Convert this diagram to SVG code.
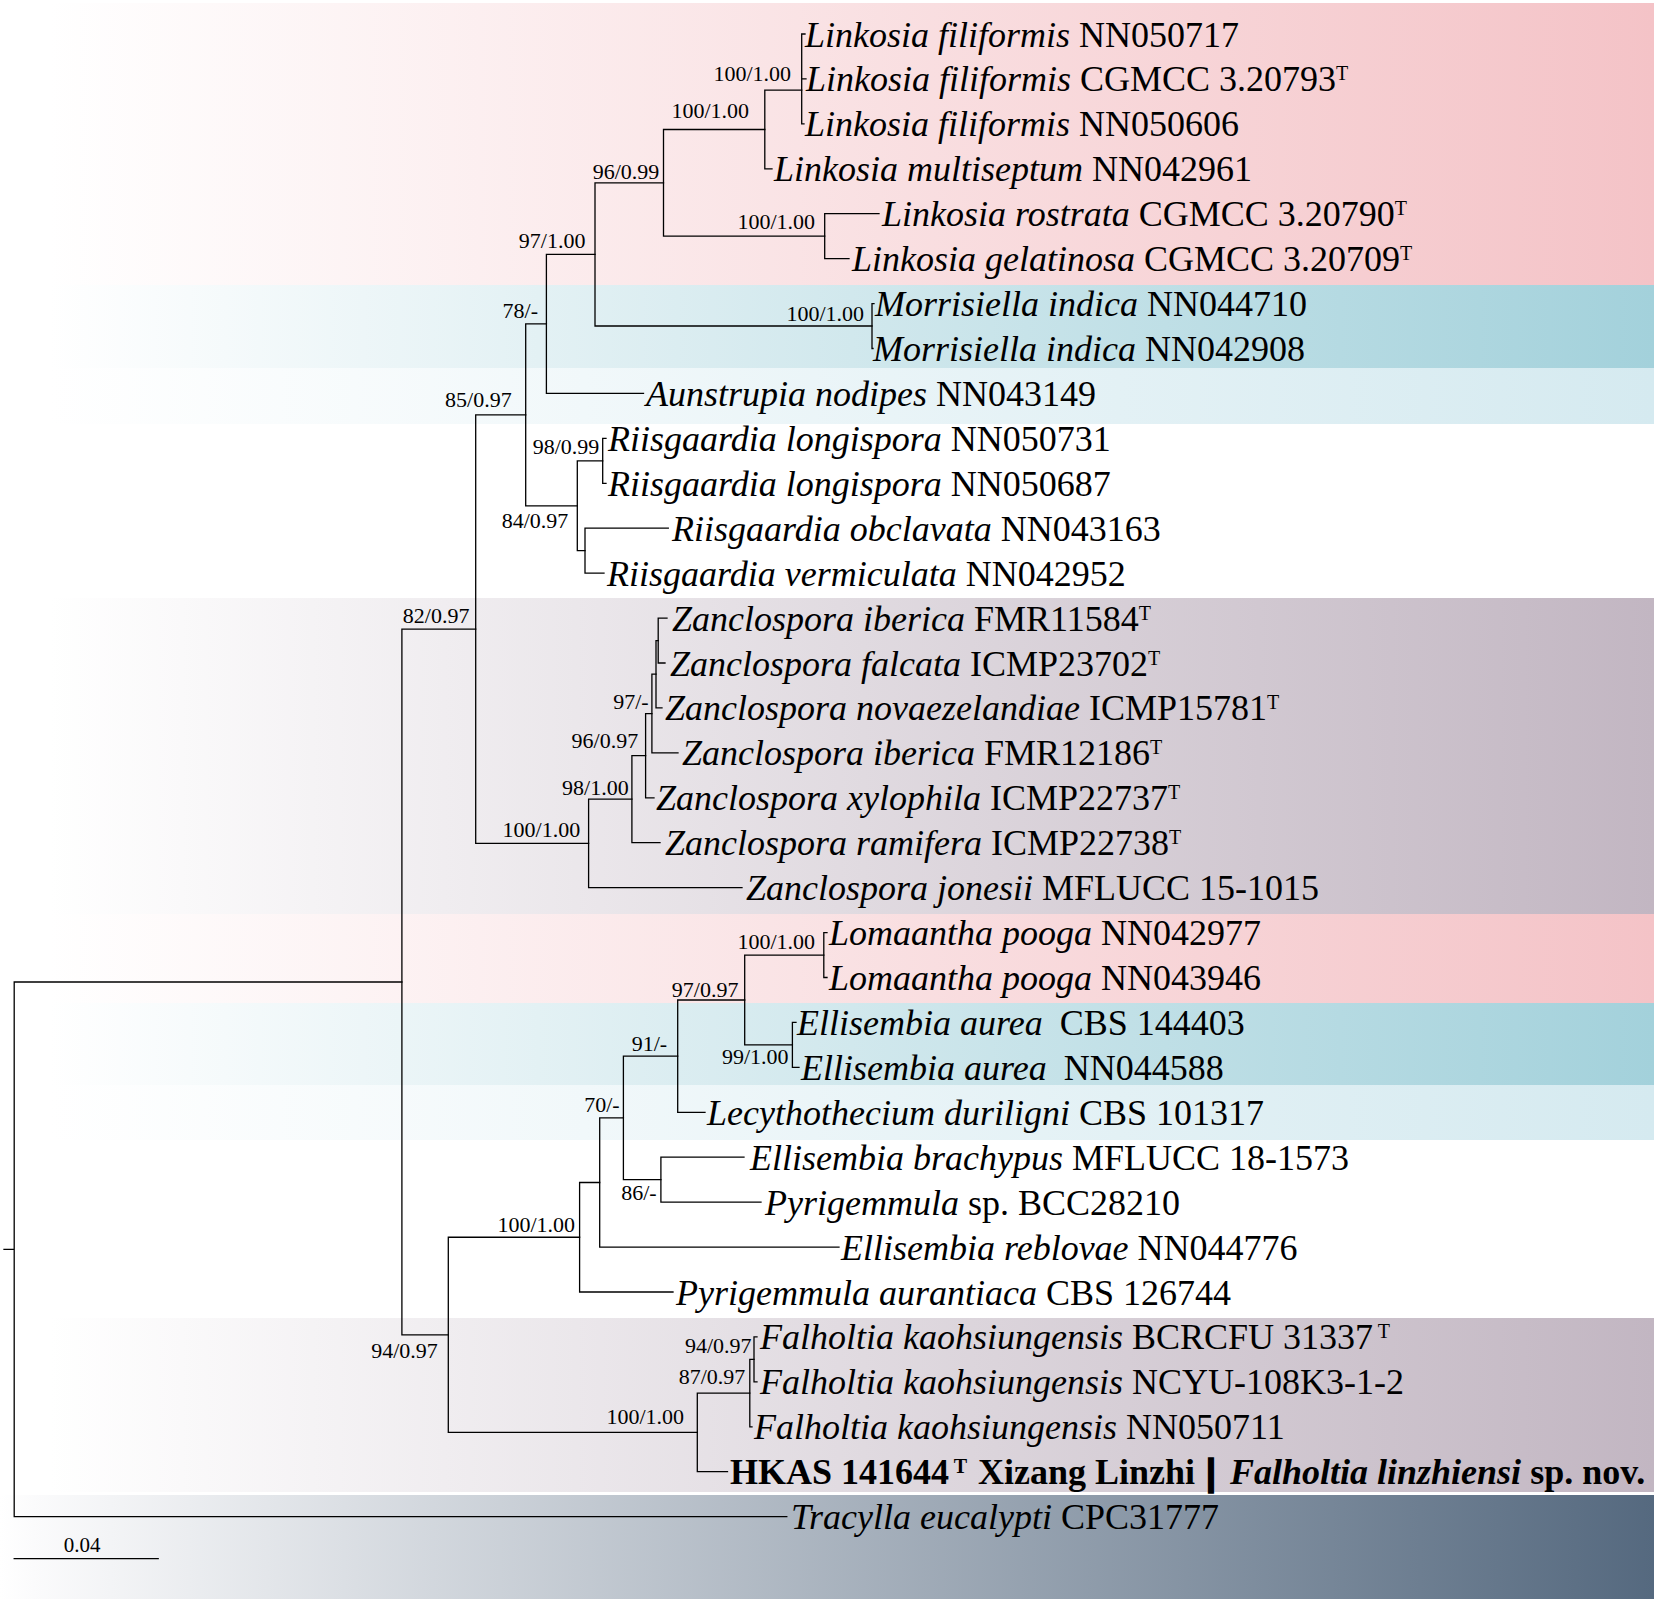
<svg xmlns="http://www.w3.org/2000/svg" width="1654" height="1599" viewBox="0 0 1654 1599">
<style>
.br{stroke:#000;stroke-width:1.3;fill:none;stroke-linecap:square}
.tx{font-family:"Liberation Serif","Times New Roman",serif;font-size:36px;fill:#000}
.i{font-style:italic}
.sup{font-size:20px}
.nl{font-family:"Liberation Serif","Times New Roman",serif;font-size:22px;fill:#000;text-anchor:end}
.b{font-weight:bold}
</style>
<defs>
<linearGradient id="gPink" x1="0" y1="0" x2="1" y2="0"><stop offset="0" stop-color="#fff"/><stop offset="0.03" stop-color="#fff"/><stop offset="1" stop-color="#F4C3C7"/></linearGradient>
<linearGradient id="gTeal" x1="0" y1="0" x2="1" y2="0"><stop offset="0" stop-color="#fff"/><stop offset="0.03" stop-color="#fff"/><stop offset="1" stop-color="#A3D1DB"/></linearGradient>
<linearGradient id="gLb" x1="0" y1="0" x2="1" y2="0"><stop offset="0" stop-color="#fff"/><stop offset="0.03" stop-color="#fff"/><stop offset="1" stop-color="#D5EAF0"/></linearGradient>
<linearGradient id="gMauve" x1="0" y1="0" x2="1" y2="0"><stop offset="0" stop-color="#fff"/><stop offset="0.03" stop-color="#fff"/><stop offset="1" stop-color="#C2B6C2"/></linearGradient>
<linearGradient id="gSlate" x1="0" y1="0" x2="1" y2="0"><stop offset="0" stop-color="#fff"/><stop offset="0.02" stop-color="#fbfbfc"/><stop offset="1" stop-color="#55697F"/></linearGradient>
</defs>
<rect x="0" y="0" width="1654" height="1599" fill="#fff"/>
<g id="bands">
<rect x="0" y="3" width="1654" height="282" fill="url(#gPink)"/>
<rect x="0" y="285" width="1654" height="83" fill="url(#gTeal)"/>
<rect x="0" y="368" width="1654" height="56" fill="url(#gLb)"/>
<rect x="0" y="598" width="1654" height="316" fill="url(#gMauve)"/>
<rect x="0" y="914" width="1654" height="89" fill="url(#gPink)"/>
<rect x="0" y="1003" width="1654" height="82" fill="url(#gTeal)"/>
<rect x="0" y="1085" width="1654" height="55" fill="url(#gLb)"/>
<rect x="0" y="1318" width="1654" height="174" fill="url(#gMauve)"/>
<rect x="0" y="1495" width="1654" height="104" fill="url(#gSlate)"/>
</g>
<g id="connectors" class="br">
<path d="M805 34H801.7V123.9H804M801.7 78.9H806"/>
<path d="M801.7 90.2H764.8V168.8H772"/>
<path d="M879 213.7H824.7V258.7H849"/>
<path d="M764.8 129.5H663.5V236.2H824.7"/>
<path d="M874 303.6H872V348.5H873"/>
<path d="M663.5 182.85H595V326H872"/>
<path d="M595 254.4H546.4V393.4H643.5"/>
<path d="M606 438.4H602.7V483.3H606"/>
<path d="M668.3 528.2H585V573.2H604"/>
<path d="M602.7 460.85H577.3V550.7H585"/>
<path d="M546.4 323.9H525.7V505.8H577.3"/>
<path d="M667 618.1H658.2V663H665"/>
<path d="M658.2 640.55H656V707.9H662"/>
<path d="M656 674.2H651.9V752.9H678"/>
<path d="M651.9 713.55H645.6V797.8H654"/>
<path d="M645.6 755.7H631.9V842.7H660"/>
<path d="M631.9 799.2H588.6V887.7H742"/>
<path d="M525.7 414.85H475.7V843.45H588.6"/>
<path d="M827 932.6H823.8V977.5H827"/>
<path d="M796 1022.4H792.4V1067.4H799"/>
<path d="M823.8 955.05H744.7V1044.9H792.4"/>
<path d="M744.7 1000H677.7V1112.3H705"/>
<path d="M744 1157.2H660.9V1202.2H761"/>
<path d="M677.7 1056.1H623.4V1179.7H660.9"/>
<path d="M623.4 1117.9H599.7V1247.1H839"/>
<path d="M599.7 1182.5H579.6V1292H673"/>
<path d="M757 1336.9H754V1381.9H757"/>
<path d="M754 1359.4H749.8V1426.8H752"/>
<path d="M749.8 1393.1H697.3V1471.7H727.5"/>
<path d="M579.6 1237.25H448.3V1432.4H697.3"/>
<path d="M475.7 629.15H401.9V1334.8H448.3"/>
<path d="M401.9 982H14.2V1516.7H786.8M4 1249.3H14.2"/>
</g>
<g id="support">
<text class="nl" x="791" y="81">100/1.00</text>
<text class="nl" x="749" y="117.5">100/1.00</text>
<text class="nl" x="659.3" y="179">96/0.99</text>
<text class="nl" x="815" y="229">100/1.00</text>
<text class="nl" x="585.4" y="248">97/1.00</text>
<text class="nl" x="864" y="321">100/1.00</text>
<text class="nl" x="538" y="318">78/-</text>
<text class="nl" x="511.7" y="406.5">85/0.97</text>
<text class="nl" x="599.3" y="454">98/0.99</text>
<text class="nl" x="568.3" y="528">84/0.97</text>
<text class="nl" x="469.4" y="622.5">82/0.97</text>
<text class="nl" x="648.7" y="709">97/-</text>
<text class="nl" x="638.2" y="748">96/0.97</text>
<text class="nl" x="628.7" y="795">98/1.00</text>
<text class="nl" x="580.2" y="836.5">100/1.00</text>
<text class="nl" x="815" y="949">100/1.00</text>
<text class="nl" x="738.4" y="997">97/0.97</text>
<text class="nl" x="788.5" y="1064">99/1.00</text>
<text class="nl" x="667.2" y="1051">91/-</text>
<text class="nl" x="619.7" y="1111.5">70/-</text>
<text class="nl" x="656.6" y="1200">86/-</text>
<text class="nl" x="575" y="1231.5">100/1.00</text>
<text class="nl" x="437.8" y="1357.5">94/0.97</text>
<text class="nl" x="751.6" y="1353">94/0.97</text>
<text class="nl" x="745.3" y="1384">87/0.97</text>
<text class="nl" x="684" y="1424">100/1.00</text>
</g>
<g id="taxa">
<g id="t01"><text class="tx" x="805" y="46.5"><tspan class="i">Linkosia filiformis</tspan> NN050717</text></g>
<g id="t02"><text class="tx" x="806" y="91.4"><tspan class="i">Linkosia filiformis</tspan> CGMCC 3.20793<tspan class="sup" dy="-11">T</tspan></text></g>
<g id="t03"><text class="tx" x="805" y="136.4"><tspan class="i">Linkosia filiformis</tspan> NN050606</text></g>
<g id="t04"><text class="tx" x="774" y="181.3"><tspan class="i">Linkosia multiseptum</tspan> NN042961</text></g>
<g id="t05"><text class="tx" x="882" y="226.2"><tspan class="i">Linkosia rostrata</tspan> CGMCC 3.20790<tspan class="sup" dy="-11">T</tspan></text></g>
<g id="t06"><text class="tx" x="852" y="271.2"><tspan class="i">Linkosia gelatinosa</tspan> CGMCC 3.20709<tspan class="sup" dy="-11">T</tspan></text></g>
<g id="t07"><text class="tx" x="875" y="316.1"><tspan class="i">Morrisiella indica</tspan> NN044710</text></g>
<g id="t08"><text class="tx" x="873" y="361"><tspan class="i">Morrisiella indica</tspan> NN042908</text></g>
<g id="t09"><text class="tx" x="646" y="405.9"><tspan class="i">Aunstrupia nodipes</tspan> NN043149</text></g>
<g id="t10"><text class="tx" x="608" y="450.9"><tspan class="i">Riisgaardia longispora</tspan> NN050731</text></g>
<g id="t11"><text class="tx" x="608" y="495.8"><tspan class="i">Riisgaardia longispora</tspan> NN050687</text></g>
<g id="t12"><text class="tx" x="672" y="540.7"><tspan class="i">Riisgaardia obclavata</tspan> NN043163</text></g>
<g id="t13"><text class="tx" x="607" y="585.7"><tspan class="i">Riisgaardia vermiculata</tspan> NN042952</text></g>
<g id="t14"><text class="tx" x="672" y="630.6"><tspan class="i">Zanclospora iberica</tspan> FMR11584<tspan class="sup" dy="-11">T</tspan></text></g>
<g id="t15"><text class="tx" x="670" y="675.5"><tspan class="i">Zanclospora falcata</tspan> ICMP23702<tspan class="sup" dy="-11">T</tspan></text></g>
<g id="t16"><text class="tx" x="665" y="720.4"><tspan class="i">Zanclospora novaezelandiae</tspan> ICMP15781<tspan class="sup" dy="-11">T</tspan></text></g>
<g id="t17"><text class="tx" x="682" y="765.4"><tspan class="i">Zanclospora iberica</tspan> FMR12186<tspan class="sup" dy="-11">T</tspan></text></g>
<g id="t18"><text class="tx" x="656" y="810.3"><tspan class="i">Zanclospora xylophila</tspan> ICMP22737<tspan class="sup" dy="-11">T</tspan></text></g>
<g id="t19"><text class="tx" x="665" y="855.2"><tspan class="i">Zanclospora ramifera</tspan> ICMP22738<tspan class="sup" dy="-11">T</tspan></text></g>
<g id="t20"><text class="tx" x="746" y="900.2"><tspan class="i">Zanclospora jonesii</tspan> MFLUCC 15-1015</text></g>
<g id="t21"><text class="tx" x="829" y="945.1"><tspan class="i">Lomaantha pooga</tspan> NN042977</text></g>
<g id="t22"><text class="tx" x="829" y="990"><tspan class="i">Lomaantha pooga</tspan> NN043946</text></g>
<g id="t23"><text class="tx" x="797" y="1034.9"><tspan class="i">Ellisembia aurea</tspan> <tspan dx="8">CBS 144403</tspan></text></g>
<g id="t24"><text class="tx" x="801" y="1079.9"><tspan class="i">Ellisembia aurea</tspan> <tspan dx="8">NN044588</tspan></text></g>
<g id="t25"><text class="tx" x="707" y="1124.8"><tspan class="i">Lecythothecium duriligni</tspan> CBS 101317</text></g>
<g id="t26"><text class="tx" x="750" y="1169.7"><tspan class="i">Ellisembia brachypus</tspan> MFLUCC 18-1573</text></g>
<g id="t27"><text class="tx" x="765" y="1214.7"><tspan class="i">Pyrigemmula</tspan> sp. BCC28210</text></g>
<g id="t28"><text class="tx" x="841" y="1259.6"><tspan class="i">Ellisembia reblovae</tspan> NN044776</text></g>
<g id="t29"><text class="tx" x="676" y="1304.5"><tspan class="i">Pyrigemmula aurantiaca</tspan> CBS 126744</text></g>
<g id="t30"><text class="tx" x="760" y="1349.4"><tspan class="i">Falholtia kaohsiungensis</tspan> BCRCFU 31337<tspan class="sup" dy="-11"> T</tspan></text></g>
<g id="t31"><text class="tx" x="760" y="1394.4"><tspan class="i">Falholtia kaohsiungensis</tspan> NCYU-108K3-1-2</text></g>
<g id="t32"><text class="tx" x="754" y="1439.3"><tspan class="i">Falholtia kaohsiungensis</tspan> NN050711</text></g>
<g id="t33"><text class="tx b" x="730" y="1484.2">HKAS 141644<tspan class="sup" dy="-11"> T</tspan><tspan x="978" dy="11">Xizang Linzhi</tspan><tspan x="1207" stroke="#000" stroke-width="3.6">|</tspan><tspan x="1230" class="i">Falholtia linzhiensi</tspan> sp. nov.</text></g>
<g id="t34"><text class="tx" x="791" y="1529.2"><tspan class="i">Tracylla eucalypti</tspan> CPC31777</text></g>
</g>
<g id="scalebar">
<path class="br" d="M14.2 1558.7H158.2"/>
<text class="nl" x="100.5" y="1552" style="font-size:21px">0.04</text>
</g>
</svg>
